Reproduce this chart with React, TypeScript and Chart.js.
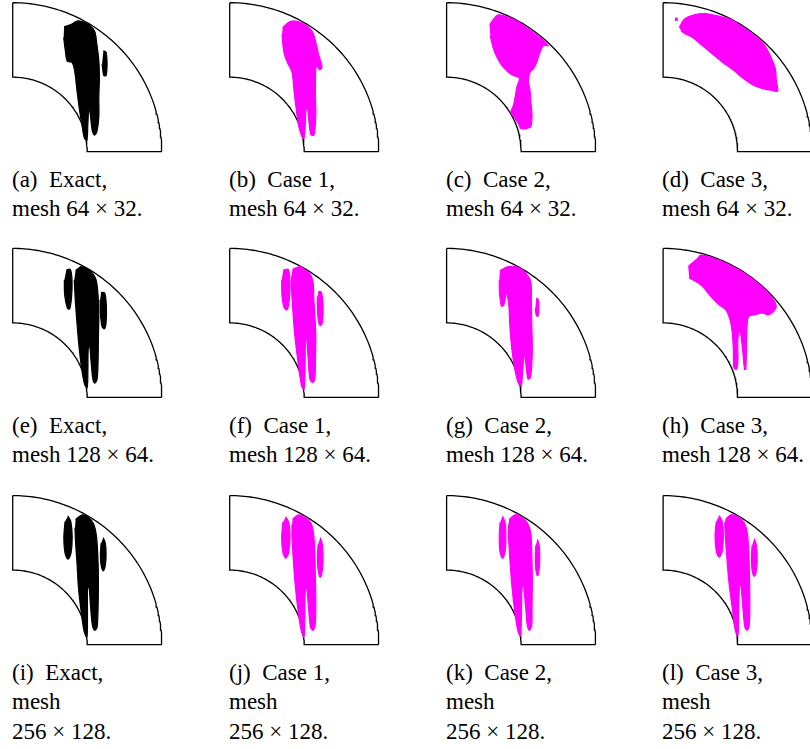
import React, { useEffect, useRef } from "react";
import { Chart, registerables } from "chart.js";
Chart.register(...registerables);

type Pt = [number, number];

// Domain: quarter annulus, inner radius 75, outer radius 150 (data units)
const R_IN = 75;
const R_OUT = 150;

// ---- Row 1: mesh 64 x 32 ----
const blobA: Pt[] = [[51.7,125.7],[59,128.3],[65.7,131.7],[74.7,129],[82.3,121.7],[84.7,108.3],[86.7,91.7],[87.3,75],[86.7,55],[86.7,35],[84.7,20],[82.3,16.7],[80,21.7],[78,38.3],[76.7,45],[75.7,28.3],[74.7,11.7],[72.3,13.3],[70,25],[67.3,41.7],[64.7,61.7],[62.3,81.7],[59.7,90],[55,91],[53,101.7],[51.3,115]];
const blobASide: Pt[] = [[91.3,101.7],[94,100],[95,88.3],[94,76.7],[91.7,76.7],[90,88.3]];
const blobB: Pt[] = [[53.3,125],[60.7,131],[69,131],[77.3,126.7],[83.3,121],[86.7,110],[89,100],[91.3,91.7],[93,85],[90.7,82.7],[87.3,86.7],[86.3,71.7],[86.3,55],[86.7,38.3],[86,25],[84.7,16.7],[81.7,17.3],[80,28.3],[78,45],[76.7,41.7],[76,25],[74.7,13.3],[72,16.7],[69,28.3],[66.7,45],[64.7,61.7],[62.7,80],[58,90],[55,98.3],[53.3,110],[52.7,118.3]];
const blobC: Pt[] = [[43.3,127.7],[50,136.7],[54,137.7],[67.3,133.3],[80.7,125],[94,115],[99,111],[102.3,106.7],[97.3,106.7],[93.3,98.3],[90.7,90],[87.3,83.3],[84,80],[82.3,71.7],[84,61.7],[85,48.3],[86,36.7],[84.7,25],[80,23.3],[74.7,23.3],[72.3,28.3],[69,33.3],[64.7,40],[67.3,46.7],[69,55],[70.7,65],[73.3,74.3],[67.3,76.7],[62.3,80],[55.7,86.7],[50.7,95],[46.7,105],[44,116.7]];
const blobD: Pt[] = [[16.3,125],[21.3,133.3],[31.3,137.7],[43,139],[54.7,136.7],[68,133.3],[80,125.5],[92,117],[101.3,108.3],[108,96.7],[113,83.3],[114,71.7],[115.3,61],[109.7,61.7],[101.3,63.3],[91.3,66.7],[81.3,73.3],[71.3,81.7],[59.7,90],[49.7,98.3],[39.7,106.7],[29.7,115],[23,118.3],[18,121.7]];
const blobDDot: Pt[] = [[12,134.5],[14,134.5],[14,132.3],[12,132.3]];

// ---- Row 2: mesh 128 x 64 ----
const blobELeft: Pt[] = [[54,128.3],[58,129],[59.7,118.3],[59.3,101.7],[57.3,89],[55,90],[52.3,103.3],[52,118.3]];
const blobE: Pt[] = [[63.3,127.7],[69,131.7],[74,130],[80,125.3],[84,118.3],[86,101.7],[86.7,81.7],[86.3,61.7],[86,38.3],[85,18.3],[82.7,14.3],[80.7,18.3],[79,35],[77.3,53.3],[76,48.3],[75.7,28.3],[75,10],[72.3,13.3],[69.3,30],[66.7,51.7],[64.7,75],[63,98.3],[62,118.3]];
const blobERight: Pt[] = [[89,105.7],[92.7,105],[94.3,91.7],[94,75],[92.3,69],[90,71],[88.3,85],[88,98.3]];
const blobFLeft: Pt[] = [[54,128.3],[59,129],[60.7,115],[60,98.3],[58,88.3],[55,90],[52.7,101.7],[52.3,118.3]];
const blobF: Pt[] = [[63.3,129],[70.7,131.7],[75,129],[81.5,123.5],[84,115],[84.7,98.3],[86,78.3],[86.7,58.3],[86.3,38.3],[85.7,18.3],[83.3,15],[80.7,18.3],[79,38.3],[77.3,61.7],[76.3,58.3],[76,38.3],[75.7,18.3],[74.7,8.3],[72.3,11.7],[69.3,31.7],[66.7,51.7],[64.7,71.7],[63.3,91.7],[62.3,108.3],[62,121.7]];
const blobFRight: Pt[] = [[89.3,106.7],[92.3,106],[94,91.7],[93.3,75],[91.3,72.3],[89.3,76.7],[88.3,91.7],[88.3,101.7]];
const blobG: Pt[] = [[53.7,127.7],[62,131.7],[72,131],[79.5,125.5],[84.7,116.7],[85.3,98.3],[85.7,75],[86.3,51.7],[85.7,31.7],[84.3,20],[82,18.3],[80.3,28.3],[78.7,45],[77,31.7],[76,18.3],[75,11.7],[72,15],[68.7,28.3],[65.7,48.3],[63.7,71.7],[62.7,91.7],[60.3,105],[57.7,93.3],[55.3,91.7],[53.3,105],[53,118.3]];
const blobGRight: Pt[] = [[90.3,100],[92.3,98.3],[93,90],[92,81.7],[90.3,82.3],[89.3,90]];
const blobH: Pt[] = [[25.3,131.7],[34.7,140],[38,143.3],[54,139],[73.5,130],[90.5,119],[103,108.3],[111.3,98.3],[114,91.7],[111.3,86.7],[106.3,83.3],[99.7,85],[93,83.3],[86.3,81.7],[84.7,75],[84,58.3],[83.3,28.3],[82,28.3],[80,48.3],[77.3,68.3],[75.3,58.3],[75.3,38.3],[74,28.3],[71.3,30],[70.7,48.3],[69.7,65],[67.3,78.3],[63,88.3],[56.3,93.3],[48,101.7],[39.7,111.7],[33,116.7],[26.3,120]];

// ---- Row 3: mesh 256 x 128 ----
const blobILeft: Pt[] = [[55.7,129.4],[58.5,124],[59.9,108],[58.7,92],[55.7,86],[52.7,92],[51.5,108],[52.7,124]];
const blobI: Pt[] = [[63.3,126],[70,130.7],[76.7,127.7],[81.7,121],[84.3,109.3],[85.7,89.3],[86.3,66],[86,39.3],[85,17.7],[82.7,14.3],[80.3,19.3],[78.3,39.3],[76.7,59.3],[75.3,56],[75.3,32.7],[74.7,7.7],[72,12.7],[69,32.7],[66.3,56],[64.7,82.7],[63.3,102.7],[62.7,117.7]];
const blobIRight: Pt[] = [[91.2,107.7],[93.3,102],[94,91],[93.3,80],[91.2,74.3],[89,80],[88.3,91],[89,102]];
const blobJLeft: Pt[] = [[56.5,128.7],[59.5,123],[60.7,108],[59.5,93],[56.5,86.7],[53.5,93],[52.3,108],[53.5,123]];
const blobJ: Pt[] = [[63.3,126],[69,130.7],[75,128.5],[81.3,123.3],[84.3,112.7],[85.7,92.7],[86.3,66],[86.7,39.3],[86,19.3],[83.7,14.3],[81.3,17.7],[79.7,32.7],[77.3,59.3],[76,52.7],[75.7,26],[74.7,7.7],[72.3,12.7],[69,32.7],[66,59.3],[64,86],[62.7,109.3],[62.7,121]];
const blobJRight: Pt[] = [[91.2,107.7],[93.3,101],[94,88],[93.3,75],[91.2,67.7],[89,75],[88.3,88],[89,101]];
const blobKLeft: Pt[] = [[56.3,129.3],[58.8,123],[59.7,108],[58.8,93],[56.3,86.7],[53.8,93],[53,108],[53.8,123]];
const blobK: Pt[] = [[63,126],[68.7,130.7],[74.8,128.6],[81.3,122.7],[84.7,112.7],[85.7,92.7],[86.3,66],[86,39.3],[85.7,19.3],[83.3,14.3],[81.3,18.7],[79.7,36],[77,62.7],[75.7,52.7],[75.3,26],[74.3,8.7],[72,12.7],[68.7,32.7],[65.7,59.3],[63.7,86],[62.3,109.3],[62.3,121]];
const blobKRight: Pt[] = [[91.5,106],[93.2,100],[93.7,88],[93.2,76],[91.5,69.3],[89.8,76],[89.3,88],[89.8,100]];
const blobLLeft: Pt[] = [[56.5,130],[59.5,124],[60.7,109],[59.5,94],[56.5,87.7],[53.5,94],[52.3,109],[53.5,124]];
const blobL: Pt[] = [[63,126],[68,130.7],[74.8,128.6],[81.7,122.7],[84.7,112.7],[86.3,92.7],[87,66],[87.3,42.7],[86.7,19.3],[84.7,14.3],[82.3,17.7],[80.7,32.7],[78,62.7],[76.7,56],[76,29.3],[75.3,8.7],[72.7,14.3],[69.7,36],[66.3,62.7],[64,89.3],[62.7,109.3],[62,122.7]];
const blobLRight: Pt[] = [[91.8,106.7],[94,100],[94.7,88],[94,75],[91.8,68.7],[89.6,75],[89,88],[89.6,100]];

// Thin white seams inside the merged main plumes (rows 2 and 3)
const seamE: Pt[] = [[75.6,100],[75.9,75],[76,55]];
const seamF: Pt[] = [[75.2,115],[75.6,90],[76,62]];
const seamI: Pt[] = [[74.7,108],[75.2,85],[75.6,62]];
const seamJ: Pt[] = [[74.7,108],[75.2,85],[75.7,58]];
const seamK: Pt[] = [[74.3,92],[74.7,75],[75.1,57]];
const seamL: Pt[] = [[74,108],[74.7,85],[75.4,60]];

// Captions
const panelLetters = ["a","b","c","d","e","f","g","h","i","j","k","l"];
const methods = ["Exact,", "Case 1,", "Case 2,", "Case 3,"];
const meshes = ["64 × 32.", "128 × 64.", "256 × 128."];

const EXACT_COLOR = "#000000";
const CASE_COLOR = "#ff00ff";

const panelBlobs: Pt[][][] = [
  [blobA, blobASide], [blobB], [blobC], [blobD, blobDDot],
  [blobELeft, blobE, blobERight], [blobFLeft, blobF, blobFRight], [blobG, blobGRight], [blobH],
  [blobILeft, blobI, blobIRight], [blobJLeft, blobJ, blobJRight], [blobKLeft, blobK, blobKRight], [blobLLeft, blobL, blobLRight],
];
const panelSeams: Pt[][][] = [
  [], [], [], [],
  [seamE], [seamF], [], [],
  [seamI], [seamJ], [seamK], [seamL],
];

// layout
const colLeft = [12.7, 229.7, 446.6, 663.1];
const rowTop = [2.7, 248.4, 495.6];
const PX = 149; // pixels for R_OUT
const MARGIN = 5;
const CAP_BASE = [187, 433, 680];
const LINE_H = 29.5;

function buildOutline() {
  const pts: { x: number; y: number }[] = [];
  pts.push({ x: 0, y: R_OUT });
  pts.push({ x: 0, y: R_IN });
  const n = 80;
  for (let i = 0; i <= n; i++) {
    const a = Math.PI / 2 - (i / n) * (Math.PI / 2);
    pts.push({ x: R_IN * Math.cos(a), y: R_IN * Math.sin(a) });
  }
  pts.push({ x: R_OUT, y: 0 });
  for (let i = 0; i <= n; i++) {
    const a = (i / n) * (Math.PI / 2);
    pts.push({ x: R_OUT * Math.cos(a), y: R_OUT * Math.sin(a) });
  }
  return pts;
}

function Panel({ left, top, blobs, seams, color }: { left: number; top: number; blobs: Pt[][]; seams: Pt[][]; color: string }) {
  const ref = useRef<HTMLCanvasElement>(null);
  const cl = Math.floor(left) - MARGIN;
  const ct = Math.floor(top) - MARGIN;
  const size = PX + 2 * MARGIN + 2;
  useEffect(() => {
    const k = R_OUT / PX;
    const xmin = -(left - cl) * k;
    const xmax = xmin + size * k;
    const ymax = R_OUT + (top - ct) * k;
    const ymin = ymax - size * k;
    const datasets: any[] = blobs.map((b) => ({
      data: b.map(([x, y]) => ({ x, y })),
      showLine: true,
      fill: "shape",
      backgroundColor: color,
      borderColor: color,
      borderWidth: 1.2,
      pointRadius: 0,
      tension: 0.3,
    }));
    seams.forEach((s) =>
      datasets.push({
        data: s.map(([x, y]) => ({ x, y })),
        showLine: true,
        fill: false,
        borderColor: "rgba(255,255,255,0.85)",
        borderWidth: 0.8,
        pointRadius: 0,
        tension: 0.3,
      })
    );
    datasets.push({
      data: buildOutline(),
      showLine: true,
      fill: false,
      borderColor: "#000",
      borderWidth: 1.3,
      pointRadius: 0,
      tension: 0,
    });
    const chart = new Chart(ref.current!, {
      type: "scatter",
      data: { datasets },
      options: {
        animation: false,
        responsive: false,
        maintainAspectRatio: false,
        devicePixelRatio: 1,
        layout: { padding: 0 },
        plugins: { legend: { display: false }, tooltip: { enabled: false } },
        scales: {
          x: { type: "linear", min: xmin, max: xmax, display: false },
          y: { type: "linear", min: ymin, max: ymax, display: false },
        },
      },
    });
    return () => chart.destroy();
  }, []);
  return (
    <canvas
      ref={ref}
      width={size}
      height={size}
      style={{ position: "absolute", left: cl, top: ct, width: size, height: size }}
    />
  );
}

export default function App() {
  const panels = [];
  const captions = [];
  for (let r = 0; r < 3; r++) {
    for (let c = 0; c < 4; c++) {
      const i = r * 4 + c;
      panels.push(
        <Panel key={"p" + i} left={colLeft[c]} top={rowTop[r]} blobs={panelBlobs[i]} seams={panelSeams[i]} color={c === 0 ? EXACT_COLOR : CASE_COLOR} />
      );
      const lines = [`(${panelLetters[i]})\u2002${methods[c]}`];
      if (r < 2) lines.push(`mesh ${meshes[r]}`);
      else { lines.push("mesh"); lines.push(meshes[r]); }
      captions.push(
        <div
          key={"c" + i}
          style={{
            position: "absolute",
            left: Math.round(colLeft[c]) - 1,
            top: CAP_BASE[r] - 22.5,
            fontFamily: "Liberation Serif, DejaVu Serif, serif",
            fontSize: 23,
            lineHeight: LINE_H + "px",
            whiteSpace: "nowrap",
            color: "#000",
          }}
        >
          {lines.map((l, j) => (
            <div key={j}>{l}</div>
          ))}
        </div>
      );
    }
  }
  return (
    <div style={{ position: "fixed", left: 0, top: 0, width: 810, height: 749, overflow: "hidden", background: "#fff" }}>
      {panels}
      {captions}
    </div>
  );
}
